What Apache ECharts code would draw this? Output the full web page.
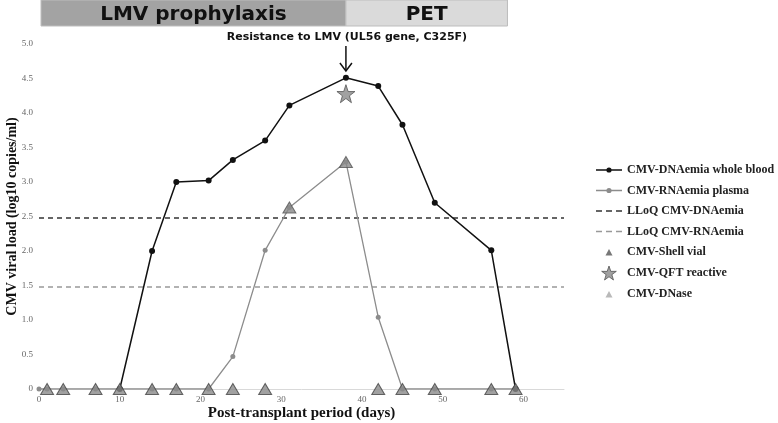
<!DOCTYPE html>
<html>
<head>
<meta charset="utf-8">
<script src="https://cdn.jsdelivr.net/npm/echarts@6/dist/echarts.min.js"></script>
<style>
  html, body { margin: 0; padding: 0; background: #fff; }
  #main { width: 778px; height: 423px; }
</style>
</head>
<body>
<div id="main"></div>
<script>
// values (day, log10 copies/ml)
const dnaDays = [10, 14, 17, 21, 24, 28, 31, 38, 42, 45, 49, 56, 59]
const dnaLoad = [0, 2.0, 3.0, 3.02, 3.32, 3.6, 4.11, 4.51, 4.39, 3.83, 2.7, 2.01, 0]

const rnaDays = [0, 1, 3, 7, 10, 14, 17, 21, 24, 28, 31, 38, 42, 45, 49, 56, 59]
const rnaLoad = [0, 0, 0, 0, 0, 0, 0, 0, 0.47, 2.01, 2.63, 3.29, 1.04, 0, 0, 0, 0]

const lloqDna = 2.48
const lloqRna = 1.48

const shellVialDays = [1, 3, 7, 10, 14, 17, 21, 24, 28, 42, 45, 49, 56, 59]
const dnaseDays = [31, 38]
const dnaseLoad = [2.63, 3.29]
const qftDays = [38]
const qftLoad = [4.28]

// treatment phases (day from, day to)
const phases = [
  { name: 'LMV prophylaxis', from: 0.25, to: 38, color: '#a3a3a3' },
  { name: 'PET', from: 38, to: 58, color: '#dadada' }
]
const resistanceDay = 38
const resistanceText = 'Resistance to LMV (UL56 gene, C325F)'

const zip = (xs, ys) => xs.map((x, i) => [x, ys[i]])
const starPath = 'path://M50,0 L61.8,35.1 L98.1,35.1 L68.8,56.8 L79.4,91.9 L50,70.5 L20.6,91.9 L31.2,56.8 L1.9,35.1 L38.2,35.1 Z'
// legend icons, drawn in a 26x14 box (the bare moves set the box)
const iconLineDot = 'path://M0,0M26,14M0,6.3h26v1.4h-26z M13,4.4a2.6,2.6 0 1 1 0,5.2a2.6,2.6 0 1 1 0,-5.2z'
const iconDashed = 'path://M0,0M26,14M0,6.3h6v1.4h-6z M10,6.3h6v1.4h-6z M20,6.3h6v1.4h-6z'
const iconTriangle = 'path://M0,0M26,14M13,4L16.5,10.5L9.5,10.5Z'
const serif = '"Liberation Serif", "DejaVu Serif", serif'
const sans = '"DejaVu Sans", "Liberation Sans", sans-serif'

const chart = echarts.init(document.getElementById('main'))

chart.setOption({
  animation: false,
  grid: { left: 39, right: 214, top: 44, bottom: 34, outerBoundsMode: 'none', containLabel: false },
  legend: {
    orient: 'vertical',
    left: 596,
    top: 163,
    padding: 0,
    itemWidth: 26,
    itemHeight: 14,
    itemGap: 6.5,
    textStyle: { fontFamily: serif, fontWeight: 'bold', fontSize: 12, color: '#222' },
    data: [
      { name: 'CMV-DNAemia whole blood', icon: iconLineDot },
      { name: 'CMV-RNAemia plasma', icon: iconLineDot },
      { name: 'LLoQ CMV-DNAemia', icon: iconDashed },
      { name: 'LLoQ CMV-RNAemia', icon: iconDashed },
      { name: 'CMV-Shell vial', icon: iconTriangle, itemStyle: { color: '#555', borderWidth: 0 } },
      { name: 'CMV-QFT reactive', icon: starPath, itemStyle: { color: '#888', borderColor: '#555', borderWidth: 1 } },
      { name: 'CMV-DNase', icon: iconTriangle, itemStyle: { color: '#a8a8a8', borderWidth: 0 } }
    ]
  },
  xAxis: {
    type: 'value',
    min: 0,
    max: 65,
    interval: 10,
    name: 'Post-transplant period (days)',
    nameLocation: 'middle',
    nameGap: 17,
    nameMoveOverlap: false,
    nameTextStyle: { fontFamily: serif, fontWeight: 'bold', fontSize: 15, color: '#111' },
    axisLine: { show: true, lineStyle: { color: '#d9d9d9' } },
    axisTick: { show: false },
    splitLine: { show: false },
    axisLabel: {
      fontFamily: serif, fontSize: 9, color: '#666', margin: 6,
      showMaxLabel: false,
      formatter: v => (v > 60 ? '' : String(v))
    }
  },
  yAxis: {
    type: 'value',
    min: 0,
    max: 5,
    interval: 0.5,
    name: 'CMV viral load (log10 copies/ml)',
    nameLocation: 'middle',
    nameGap: 20,
    nameMoveOverlap: false,
    nameTextStyle: { fontFamily: serif, fontWeight: 'bold', fontSize: 14, color: '#111' },
    axisLine: { show: false },
    axisTick: { show: false },
    splitLine: { show: false },
    axisLabel: {
      fontFamily: serif, fontSize: 9, color: '#666', margin: 6,
      formatter: v => (v === 0 ? '0' : v.toFixed(1))
    }
  },
  series: [
    {
      name: 'LLoQ CMV-DNAemia',
      type: 'line',
      data: [[0, lloqDna], [65, lloqDna]],
      symbol: 'none',
      lineStyle: { color: '#333', width: 1.5, type: [5, 4] },
      itemStyle: { color: '#333' },
      z: 1
    },
    {
      name: 'LLoQ CMV-RNAemia',
      type: 'line',
      data: [[0, lloqRna], [65, lloqRna]],
      symbol: 'none',
      lineStyle: { color: '#999', width: 1.5, type: [5, 4] },
      itemStyle: { color: '#999' },
      z: 1
    },
    {
      name: 'CMV-RNAemia plasma',
      type: 'line',
      data: zip(rnaDays, rnaLoad),
      symbol: 'circle',
      symbolSize: 5,
      showAllSymbol: true,
      lineStyle: { color: '#8c8c8c', width: 1.3 },
      itemStyle: { color: '#8c8c8c' },
      z: 2
    },
    {
      name: 'CMV-DNAemia whole blood',
      type: 'line',
      data: zip(dnaDays, dnaLoad),
      symbol: 'circle',
      symbolSize: 6,
      showAllSymbol: true,
      lineStyle: { color: '#111', width: 1.5 },
      itemStyle: { color: '#111' },
      z: 3
    },
    {
      name: 'CMV-Shell vial',
      type: 'scatter',
      data: shellVialDays.map(d => [d, 0]),
      symbol: 'triangle',
      symbolSize: [13, 11],
      itemStyle: { color: '#8a8a8a', borderColor: '#444', borderWidth: 1 },
      z: 4
    },
    {
      name: 'CMV-DNase',
      type: 'scatter',
      data: zip(dnaseDays, dnaseLoad),
      symbol: 'triangle',
      symbolSize: [13, 11],
      itemStyle: { color: '#8a8a8a', borderColor: '#555', borderWidth: 1 },
      z: 4
    },
    {
      name: 'CMV-QFT reactive',
      type: 'scatter',
      data: zip(qftDays, qftLoad),
      symbol: starPath,
      symbolSize: 18,
      itemStyle: { color: '#8a8a8a', borderColor: '#555', borderWidth: 1 },
      z: 4
    }
  ]
})

// phase boxes and resistance arrow, placed from the x axis scale
const px = d => chart.convertToPixel({ xAxisIndex: 0 }, d)
const ax = px(resistanceDay)
const graphics = []
phases.forEach(p => {
  const x0 = px(p.from)
  const x1 = px(p.to)
  graphics.push({
    type: 'rect',
    shape: { x: x0, y: 0, width: x1 - x0, height: 26 },
    style: { fill: p.color, stroke: '#bdbdbd', lineWidth: 1 },
    z: 10
  })
  graphics.push({
    type: 'text',
    x: (x0 + x1) / 2,
    y: 15,
    style: {
      text: p.name, fill: '#111', font: 'bold 20px ' + sans,
      align: 'center', verticalAlign: 'middle'
    },
    z: 11
  })
})
graphics.push({
  type: 'text',
  x: ax + 1,
  y: 37,
  style: {
    text: resistanceText, fill: '#111', font: 'bold 11px ' + sans,
    align: 'center', verticalAlign: 'middle'
  },
  z: 11
})
graphics.push({
  type: 'line',
  shape: { x1: ax, y1: 46, x2: ax, y2: 71 },
  style: { stroke: '#111', lineWidth: 1.5 },
  z: 11
})
graphics.push({
  type: 'polyline',
  shape: { points: [[ax - 6, 63], [ax, 71], [ax + 6, 63]] },
  style: { stroke: '#111', lineWidth: 1.5, fill: null },
  z: 11
})
chart.setOption({ graphic: graphics })
</script>
</body>
</html>
